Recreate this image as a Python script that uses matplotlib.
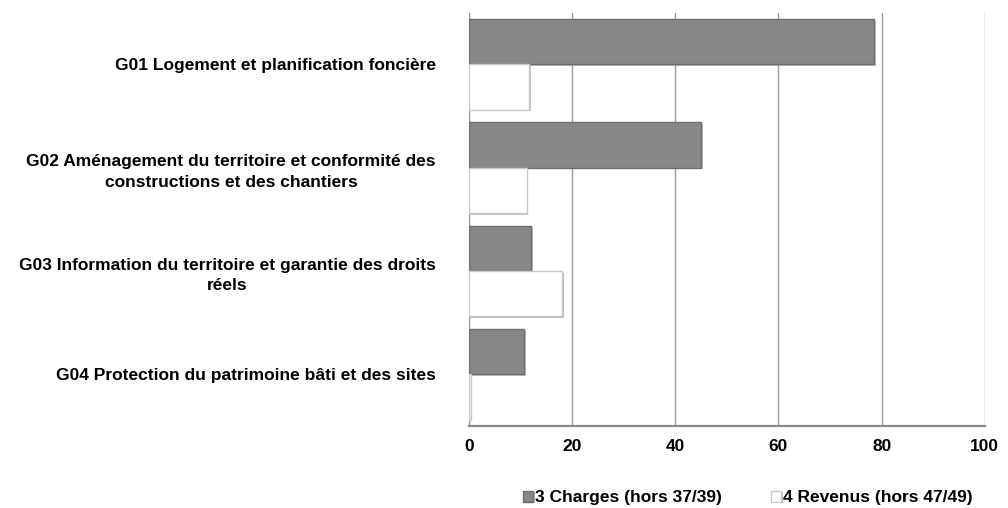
#!/usr/bin/env python3
# -*- coding: utf-8 -*-
"""
Charges et revenus par groupe de prestations (barres horizontales).
"""

import matplotlib
matplotlib.use("Agg")
import matplotlib.pyplot as plt
import matplotlib.patheffects as pe
import numpy as np


CATEGORIES = [
    "G01 Logement et planification foncière",
    "G02 Aménagement du territoire et conformité des\nconstructions et des chantiers",
    "G03 Information du territoire et garantie des droits\nréels",
    "G04 Protection du patrimoine bâti et des sites",
]

CHARGES = [78.5, 45.0, 12.1, 10.7]
REVENUS = [11.6, 11.2, 18.1, 0.3]

SERIES_LABELS = ["3 Charges (hors 37/39)", "4 Revenus (hors 47/49)"]
X_TICKS = [0, 20, 40, 60, 80, 100]


plt.rcParams["font.family"] = ["Liberation Sans", "DejaVu Sans"]
plt.rcParams["font.weight"] = "bold"

fig = plt.figure(figsize=(10.08, 5.08), dpi=100)
ax = fig.add_axes([0.4653, 0.1614, 0.5117, 0.8136])

y = np.arange(len(CATEGORIES))
h = 0.44

# soft drop shadow to mimic the bevelled bars
shadow = [pe.SimplePatchShadow(offset=(1.2, -1.2), shadow_rgbFace="#707070", alpha=0.45),
          pe.Normal()]

ax.barh(y - h / 2, CHARGES, height=h, color="#878787", edgecolor="#6e6e6e",
        linewidth=1.0, label=SERIES_LABELS[0], path_effects=shadow, zorder=3)
ax.barh(y + h / 2, REVENUS, height=h, color="#ffffff", edgecolor="#c8c8c8",
        linewidth=1.0, label=SERIES_LABELS[1], path_effects=shadow, zorder=3)

ax.set_xlim(0, 100)
ax.set_ylim(len(CATEGORIES) - 0.5, -0.5)
ax.set_xticks(X_TICKS)
ax.set_yticks(y)
ax.set_yticklabels(CATEGORIES, fontsize=12.5, fontweight="bold",
                   multialignment="center", linespacing=1.45)
ax.tick_params(axis="y", length=0, pad=24)
ax.tick_params(axis="x", length=0, pad=9, labelsize=12.5)
for lbl in ax.get_xticklabels():
    lbl.set_fontweight("bold")

ax.grid(axis="x", color="#9a9a9a", linewidth=1.0, zorder=0)
ax.set_axisbelow(True)
for side in ["top", "right"]:
    ax.spines[side].set_visible(False)
ax.spines["left"].set_color("#9a9a9a")
ax.spines["bottom"].set_color("#8a8a8a")
ax.spines["bottom"].set_linewidth(1.6)

fig.legend(loc="center", bbox_to_anchor=(0.742, 0.02), ncol=2, frameon=False,
           handlelength=0.6, handleheight=0.6, handletextpad=0.12,
           columnspacing=2.8, borderpad=0.0,
           prop={"weight": "bold", "size": 12.5})

fig.savefig("out.png", dpi=100)
